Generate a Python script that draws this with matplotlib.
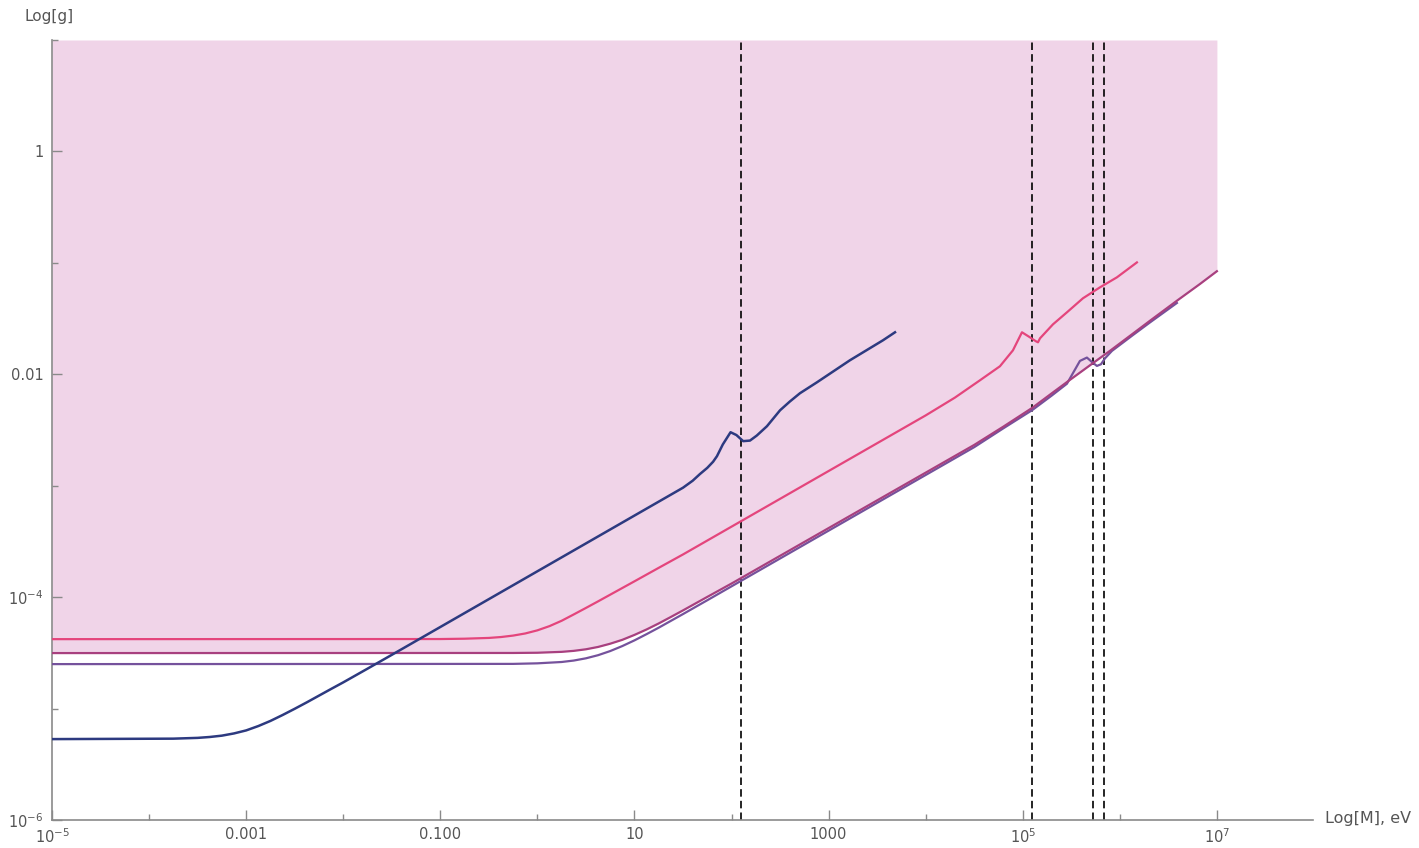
import numpy as np
import matplotlib.pyplot as plt
from matplotlib.ticker import FixedLocator, NullFormatter


# curves as (log10 M, log10 g) pairs
navy_logm = [-5.0, -3.75, -3.5, -3.375, -3.25, -3.125, -3.0, -2.875, -2.75, -2.625, -2.5,
             -2.375, -2.25, -2.125, -2.0, -1.75, -1.5, -1.0,
             1.5, 1.6, 1.675, 1.75, 1.81, 1.85, 1.91, 1.99, 2.05, 2.12, 2.19, 2.26,
             2.365, 2.5, 2.6, 2.705, 2.88, 3.22, 3.56, 3.684]
navy_logg = [-5.274, -5.270, -5.263, -5.255, -5.243, -5.223, -5.196, -5.157, -5.111, -5.058, -5.002,
             -4.944, -4.884, -4.824, -4.765, -4.642, -4.518, -4.268,
             -3.018, -2.955, -2.895, -2.84, -2.785, -2.735, -2.63, -2.52, -2.545, -2.60, -2.595, -2.55,
             -2.466, -2.323, -2.245, -2.17, -2.072, -1.874, -1.695, -1.623]

pink_logm = [-5.0, -1.0, -0.75, -0.5, -0.375, -0.25, -0.125, 0.0, 0.125, 0.25, 0.375, 0.5,
             0.625, 0.75, 1.0, 1.25, 1.5, 4.0, 4.3, 4.559, 4.765,
             4.899, 4.992, 5.074, 5.136, 5.157, 5.178, 5.311, 5.455, 5.62, 5.795, 5.97, 6.176]
pink_logg = [-4.377, -4.376, -4.373, -4.366, -4.358, -4.345, -4.326, -4.298, -4.26, -4.212, -4.155,
             -4.097, -4.038, -3.978, -3.858, -3.737, -3.617, -2.369, -2.21, -2.054, -1.928,
             -1.785, -1.623, -1.668, -1.704, -1.713, -1.677, -1.552, -1.444, -1.318, -1.22, -1.13, -0.996]

mag_logm = [-5.0, -0.25, 0.0, 0.25, 0.375, 0.5, 0.625, 0.75, 0.875, 1.0, 1.125, 1.25, 1.375,
            1.5, 1.75, 2.0, 4.5, 4.8, 5.1, 5.3, 5.455,
            5.723, 5.898, 6.135, 6.31, 6.588, 6.825, 7.0]
mag_logg = [-4.502, -4.501, -4.499, -4.491, -4.482, -4.468, -4.447, -4.418, -4.383, -4.339, -4.29,
            -4.236, -4.178, -4.119, -3.998, -3.878, -2.634,
            -2.47, -2.30, -2.17, -2.07, -1.90, -1.79, -1.635, -1.52, -1.34, -1.19, -1.075]

pur_logm = [-5.0, -0.25, 0.0, 0.25, 0.375, 0.5, 0.625, 0.75, 0.875, 1.0, 1.125, 1.25, 1.375,
            1.5, 1.75, 2.0, 4.5, 4.8, 5.1, 5.3, 5.455, 5.517, 5.589,
            5.661, 5.713, 5.764, 5.806, 5.847, 5.919, 6.135, 6.31, 6.588]
pur_logg = [-4.601, -4.599, -4.594, -4.582, -4.569, -4.549, -4.521, -4.484, -4.439, -4.388, -4.332,
            -4.274, -4.213, -4.152, -4.028, -3.903, -2.654, -2.485, -2.32,
            -2.19, -2.085, -1.99, -1.88, -1.85, -1.89, -1.925, -1.91, -1.857, -1.79, -1.648,
            -1.535, -1.36]

# thresholds (dashed verticals), log10 M
thresh_logm = [2.097, 5.095, 5.723, 5.836]

xmajor = [1e-5, 1e-3, 1e-1, 1e1, 1e3, 1e5, 1e7]
xmajor_labels = ['$10^{-5}$', '0.001', '0.100', '10', '1000', '$10^{5}$', '$10^{7}$']
xminor = [1e-4, 1e-2, 1e0, 1e2, 1e4, 1e6, 1e8]
ymajor = [1e-6, 1e-4, 1e-2, 1e0]
ymajor_labels = ['$10^{-6}$', '$10^{-4}$', '0.01', '1']
yminor = [1e-5, 1e-3, 1e-1, 1e1]

fill_col = '#f0d4e8'
navy = '#2d3a80'
pink = '#e4457c'
magenta = '#a8407f'
purple = '#75529c'
axis_col = '#8a8a8a'
text_col = '#555555'


def to_lin(a):
    return 10.0 ** np.asarray(a)


fig = plt.figure(figsize=(14.19, 8.48), dpi=100)
ax = fig.add_axes([52 / 1419, 28 / 848, 1261 / 1419, 780 / 848])
ax.set_xscale('log')
ax.set_yscale('log')
ax.set_xlim(1e-5, 10 ** 7.99)
ax.set_ylim(1e-6, 10)

# excluded region above the bound
ax.fill_between(to_lin(mag_logm), to_lin(mag_logg), 10, color=fill_col, lw=0, zorder=1)

for xv in thresh_logm:
    ax.axvline(10 ** xv, color='black', lw=1.2, dashes=(4.5, 2.5), zorder=2)

ax.plot(to_lin(pur_logm), to_lin(pur_logg), color=purple, lw=1.6, zorder=3)
ax.plot(to_lin(mag_logm), to_lin(mag_logg), color=magenta, lw=1.6, zorder=3)
ax.plot(to_lin(pink_logm), to_lin(pink_logg), color=pink, lw=1.6, zorder=3)
ax.plot(to_lin(navy_logm), to_lin(navy_logg), color=navy, lw=1.8, zorder=4)

for s in ['top', 'right']:
    ax.spines[s].set_visible(False)
for s in ['left', 'bottom']:
    ax.spines[s].set_color(axis_col)
    ax.spines[s].set_linewidth(1.2)

ax.xaxis.set_major_locator(FixedLocator(xmajor))
ax.xaxis.set_minor_locator(FixedLocator(xminor))
ax.set_xticklabels(xmajor_labels)
ax.xaxis.set_minor_formatter(NullFormatter())
ax.yaxis.set_major_locator(FixedLocator(ymajor))
ax.yaxis.set_minor_locator(FixedLocator(yminor))
ax.set_yticklabels(ymajor_labels)
ax.yaxis.set_minor_formatter(NullFormatter())

ax.tick_params(which='both', direction='in', color=axis_col, width=1.0,
               labelcolor=text_col, labelsize=10.5)
ax.tick_params(which='major', length=7)
ax.tick_params(which='minor', length=4.5)
ax.tick_params(axis='x', pad=5)
ax.tick_params(axis='y', pad=6)

fig.text(25 / 1419, 1 - 17 / 848, 'Log[g]', ha='left', va='center', fontsize=11, color=text_col)
fig.text(1325 / 1419, 1 - 819 / 848, 'Log[M], eV', ha='left', va='center', fontsize=11.5, color=text_col)

fig.savefig('out.png', dpi=100)
